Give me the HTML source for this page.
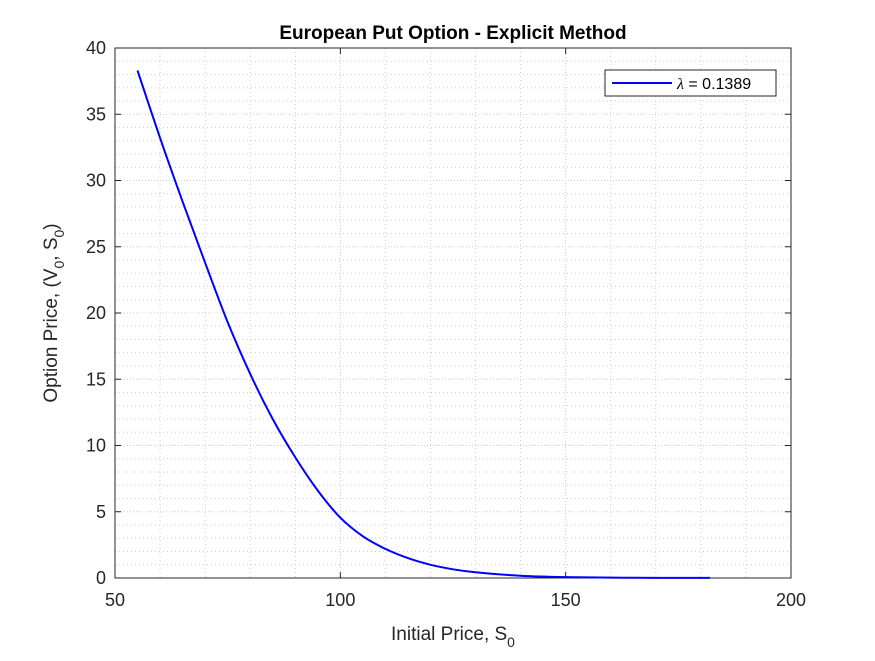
<!DOCTYPE html>
<html><head><meta charset="utf-8"><style>
body{margin:0;background:#fff;width:875px;height:656px;overflow:hidden;font-family:"Liberation Sans",sans-serif}
</style></head><body>
<svg width="875" height="656" font-family="Liberation Sans, sans-serif">
<rect width="875" height="656" fill="#fff"/>
<g id="grid"></g>
<g id="axes"></g>
<path id="curve" fill="none" stroke="#0000ff" stroke-width="2"/>
<text x="453" y="39" text-anchor="middle" font-size="19" font-weight="bold">European Put Option - Explicit Method</text>
<text x="453" y="640" text-anchor="middle" font-size="19" fill="#262626">Initial Price, S<tspan dy="7" font-size="14">0</tspan></text>
<text transform="translate(57,313) rotate(-90)" text-anchor="middle" font-size="19" fill="#262626">Option Price, (V<tspan dy="7" font-size="14">0</tspan><tspan dy="-7">, S</tspan><tspan dy="7" font-size="14">0</tspan><tspan dy="-7">)</tspan></text>
<g>
<rect x="605" y="70" width="171" height="26" fill="#fff" stroke="#262626" stroke-width="1"/>
<line x1="612" y1="83" x2="672" y2="83" stroke="#0000ff" stroke-width="2"/>
<text x="677" y="89" font-size="16"><tspan font-family="Liberation Serif, serif" font-style="italic">λ</tspan> = 0.1389</text>
</g>
</svg>
<script>
const xs=[55,60,65,70,75,80,85,90,95,100,105,110,115,120,125,130,140,150,160,170,182];
const ys=[38.3,33.2,28.4,23.8,19.3,15.4,12.0,9.1,6.6,4.55,3.15,2.2,1.5,1.0,0.66,0.43,0.17,0.07,0.03,0.01,0.005];
const xTicks=[50,100,150,200];
const yTicks=[0,5,10,15,20,25,30,35,40];
const L=115,R=791,T=48,B=578;
const sx=v=>L+(v-50)/150*(R-L);
const sy=v=>B-v/40*(B-T);
const ns="http://www.w3.org/2000/svg";
function mk(tag,attrs,parent){const e=document.createElementNS(ns,tag);for(const k in attrs)e.setAttribute(k,attrs[k]);parent.appendChild(e);return e;}
const g=document.getElementById('grid'),ax=document.getElementById('axes');
for(let v=50;v<=200;v+=10){const l=mk('line',{x1:sx(v),x2:sx(v),y1:T,y2:B,stroke:'#ccc','stroke-width':1,'stroke-dasharray':v%50?'1,3':'1,2'},g);

}
for(let v=0;v<=40;v+=1){const l=mk('line',{x1:L,x2:R,y1:sy(v),y2:sy(v),stroke:'#ccc','stroke-width':1,'stroke-dasharray':v%5?'1,3':'1,2'},g);

}
const box=mk('rect',{x:L,y:T,width:R-L,height:B-T,fill:'none',stroke:'#262626','stroke-width':1},ax);


xTicks.forEach(v=>{mk('line',{x1:sx(v),x2:sx(v),y1:B,y2:B-6,stroke:'#262626'},ax);mk('line',{x1:sx(v),x2:sx(v),y1:T,y2:T+6,stroke:'#262626'},ax);
const t=mk('text',{x:sx(v),y:B+28,'text-anchor':'middle','font-size':18,fill:'#262626'},ax);t.textContent=v;

});
yTicks.forEach(v=>{mk('line',{x1:L,x2:L+6,y1:sy(v),y2:sy(v),stroke:'#262626'},ax);mk('line',{x1:R,x2:R-6,y1:sy(v),y2:sy(v),stroke:'#262626'},ax);
const t=mk('text',{x:L-9,y:sy(v)+6,'text-anchor':'end','font-size':18,fill:'#262626'},ax);t.textContent=v;

});
const P=xs.map((x,i)=>[sx(x),sy(ys[i])]);
let d='M'+P[0][0].toFixed(1)+','+P[0][1].toFixed(1);
for(let i=0;i<P.length-1;i++){const p0=P[Math.max(0,i-1)],p1=P[i],p2=P[i+1],p3=P[Math.min(P.length-1,i+2)];
const c1=[p1[0]+(p2[0]-p0[0])/6,p1[1]+(p2[1]-p0[1])/6],c2=[p2[0]-(p3[0]-p1[0])/6,p2[1]-(p3[1]-p1[1])/6];
c1[1]=Math.min(c1[1],B);c2[1]=Math.min(c2[1],B);
d+='C'+c1.map(v=>v.toFixed(1)).join(',')+' '+c2.map(v=>v.toFixed(1)).join(',')+' '+p2.map(v=>v.toFixed(1)).join(',');}
document.getElementById('curve').setAttribute('d',d);
</script>
</body></html>
